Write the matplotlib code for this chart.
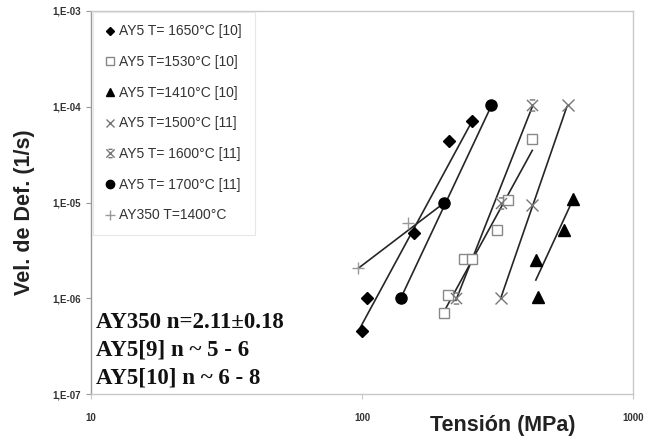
import matplotlib
matplotlib.use("Agg")
import matplotlib.pyplot as plt
from matplotlib.path import Path

plt.rcParams.update({
    "font.family": ["Liberation Sans", "DejaVu Sans"],
    "axes.linewidth": 1.0,
})

# ---------------- data (stress MPa, strain rate 1/s) ----------------
LABELS = [
    "AY5 T= 1650°C [10]",
    "AY5 T=1530°C [10]",
    "AY5 T=1410°C [10]",
    "AY5 T=1500°C [11]",
    "AY5 T= 1600°C [11]",
    "AY5 T= 1700°C [11]",
    "AY350 T=1400°C",
]

x_1650 = [100, 104, 156, 210, 255]
y_1650 = [4.6e-7, 1.0e-6, 4.8e-6, 4.4e-5, 7.1e-5]
x_1530 = [200, 208, 237, 254, 314, 347, 425]
y_1530 = [7.0e-7, 1.08e-6, 2.6e-6, 2.55e-6, 5.2e-6, 1.06e-5, 4.57e-5]
x_1410 = [438, 448, 556, 603]
y_1410 = [2.5e-6, 1.02e-6, 5.2e-6, 1.1e-5]
x_1500 = [325, 423, 574]
y_1500 = [1.0e-6, 9.4e-6, 1.04e-4]
x_1600 = [223, 325, 423]
y_1600 = [1.0e-6, 1.0e-5, 1.04e-4]
x_1700 = [139, 200, 299]
y_1700 = [1.0e-6, 1.0e-5, 1.04e-4]
x_ay350 = [97, 148]
y_ay350 = [2.06e-6, 6.15e-6]

# trend lines (end points, as drawn in the reference)
fit_1650 = ([98, 255], [4.8e-7, 7.1e-5])
fit_1530 = ([202, 425], [7.5e-7, 3.5e-5])
fit_1410 = ([438, 603], [1.55e-6, 1.1e-5])
fit_1500 = ([325, 570], [1.0e-6, 1.0e-4])
fit_1600 = ([222, 425], [9.5e-7, 1.0e-4])
fit_1700 = ([139, 299], [1.0e-6, 1.0e-4])
fit_ay350 = ([97, 200], [2.06e-6, 9.8e-6])

NOTES = ["AY350 n=2.11±0.18", "AY5[9] n ~ 5 - 6", "AY5[10] n ~ 6 - 8"]

# x with short caps top and bottom (Excel style star marker)
STAR = Path(
    [(-1, -1), (1, 1), (-1, 1), (1, -1), (-0.5, 1), (0.5, 1), (-0.5, -1), (0.5, -1)],
    [Path.MOVETO, Path.LINETO, Path.MOVETO, Path.LINETO,
     Path.MOVETO, Path.LINETO, Path.MOVETO, Path.LINETO],
)

W, H = 662, 441
fig = plt.figure(figsize=(W / 100, H / 100), dpi=100)
ax = fig.add_axes([91 / W, 1 - 394 / H, 542 / W, 383 / H])
ax.set_xscale("log")
ax.set_yscale("log")
ax.set_xlim(10, 1000)
ax.set_ylim(1e-7, 1e-3)

LINE = dict(color="#262626", lw=1.2, zorder=2)
for xs, ys in [fit_1650, fit_1530, fit_1410, fit_1500, fit_1600, fit_1700, fit_ay350]:
    ax.plot(xs, ys, **LINE)

series = [
    (x_1650, y_1650, dict(marker="D", ms=6, mfc="black", mec="black")),
    (x_1530, y_1530, dict(marker="s", ms=7.5, mfc="white", mec="#888888", mew=1.0)),
    (x_1410, y_1410, dict(marker="^", ms=8, mfc="black", mec="black")),
    (x_1500, y_1500, dict(marker="x", ms=8, mec="#777777", mew=1.0)),
    (x_1600, y_1600, dict(marker=STAR, ms=8, mfc="none", mec="#777777", mew=1.0)),
    (x_1700, y_1700, dict(marker="o", ms=8, mfc="black", mec="black")),
    (x_ay350, y_ay350, dict(marker="+", ms=9, mec="#999999", mew=1.0)),
]
for (xs, ys, style), label in zip(series, LABELS):
    ax.plot(xs, ys, linestyle="none", label=label, zorder=3, **style)

for s in ax.spines.values():
    s.set_color("#c8c8c8")
ax.spines["left"].set_color("#999999")
ax.tick_params(which="minor", length=0)
ax.tick_params(axis="y", which="major", direction="out", length=3.5, width=0.8,
               color="#999999", pad=4, labelsize=7, labelcolor="#333333")
ax.tick_params(axis="x", which="major", direction="out", length=3.5, width=0.8,
               color="#c8c8c8", pad=10, labelsize=7, labelcolor="#333333")
ax.set_yticks([1e-7, 1e-6, 1e-5, 1e-4, 1e-3])
ax.set_yticklabels(["1,E-07", "1,E-06", "1,E-05", "1,E-04", "1,E-03"], fontweight="bold")
ax.set_xticks([10, 100, 1000])
ax.set_xticklabels(["10", "100", "1000"], fontweight="bold")

leg = ax.legend(loc="upper left", bbox_to_anchor=(93 / W, 1 - 12 / H),
                bbox_transform=fig.transFigure, borderaxespad=0, fontsize=10,
                frameon=True, fancybox=False, edgecolor="#e2e2e2",
                handlelength=0.7, handletextpad=0.3, borderpad=0.9,
                labelspacing=1.2, markerscale=0.75, labelcolor="#333333")
leg.get_frame().set_linewidth(0.8)

for i, note in enumerate(NOTES):
    fig.text(96 / W, 1 - (322 + 28 * i) / H, note, family="Liberation Serif",
             fontweight="bold", fontsize=16.5, va="center", ha="left", color="#111111")

fig.text(25 / W, 1 - 212 / H, "Vel. de Def. (1/s)", rotation=90, fontsize=15.5,
         fontweight="bold", va="center", ha="center", color="#222222")
fig.text(503 / W, 1 - 425 / H, "Tensión (MPa)", fontsize=15.5,
         fontweight="bold", va="center", ha="center", color="#222222")

fig.savefig("out.png", dpi=100)
